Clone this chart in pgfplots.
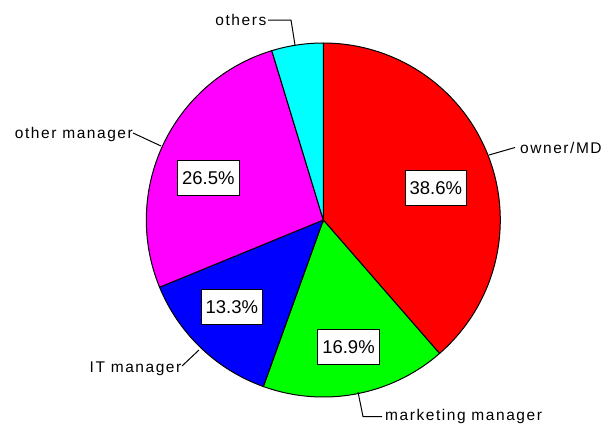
\documentclass[border=0pt]{standalone}
\usepackage{pgfplots}
\pgfplotsset{compat=1.18}
\usepackage{fontspec}
\setmainfont{Liberation Sans}
\newfontfamily\lblfont[LetterSpace=10]{Liberation Sans}
\definecolor{pRed}{RGB}{255,0,0}
\definecolor{pGreen}{RGB}{0,255,0}
\definecolor{pBlue}{RGB}{0,0,255}
\definecolor{pMagenta}{RGB}{255,0,255}
\definecolor{pCyan}{RGB}{0,255,255}

% shares (percent), clockwise from 12 o'clock
\def\vA{38.6} % owner/MD
\def\vB{16.9} % marketing manager
\def\vC{13.3} % IT manager
\def\vD{26.5} % other manager
\def\vE{4.7}  % others
\def\cx{323.3}
\def\cy{220}
\def\R{177}
\pgfmathsetmacro\aA{90}
\pgfmathsetmacro\aB{\aA-3.6*\vA}
\pgfmathsetmacro\aC{\aB-3.6*\vB}
\pgfmathsetmacro\aD{\aC-3.6*\vC}
\pgfmathsetmacro\aE{\aD-3.6*\vD}
\pgfmathsetmacro\aF{\aE-3.6*\vE}

\begin{document}
\begin{tikzpicture}
\path[use as bounding box] (0,0) rectangle (606pt,434pt);
\begin{axis}[
  at={(0,0)}, anchor=south west,
  scale only axis, width=606pt, height=434pt,
  xmin=0, xmax=606, ymin=0, ymax=434, y dir=reverse,
  hide axis, clip=false,
]
\addplot[draw=black, line width=1pt, fill=pRed, domain=\aB:\aA, samples=120, variable=\t]
  ({\cx+\R*cos(\t)}, {\cy-\R*sin(\t)}) -- (axis cs:\cx,\cy) -- cycle;
\addplot[draw=black, line width=1pt, fill=pGreen, domain=\aC:\aB, samples=80, variable=\t]
  ({\cx+\R*cos(\t)}, {\cy-\R*sin(\t)}) -- (axis cs:\cx,\cy) -- cycle;
\addplot[draw=black, line width=1pt, fill=pBlue, domain=\aD:\aC, samples=60, variable=\t]
  ({\cx+\R*cos(\t)}, {\cy-\R*sin(\t)}) -- (axis cs:\cx,\cy) -- cycle;
\addplot[draw=black, line width=1pt, fill=pMagenta, domain=\aE:\aD, samples=100, variable=\t]
  ({\cx+\R*cos(\t)}, {\cy-\R*sin(\t)}) -- (axis cs:\cx,\cy) -- cycle;
\addplot[draw=black, line width=1pt, fill=pCyan, domain=\aF:\aE, samples=30, variable=\t]
  ({\cx+\R*cos(\t)}, {\cy-\R*sin(\t)}) -- (axis cs:\cx,\cy) -- cycle;

% leader lines
\addplot[black, line width=1pt] coordinates {(268,20) (291,20) (295,45)};
\addplot[black, line width=1pt] coordinates {(489,155) (515,147.5)};
\addplot[black, line width=1pt] coordinates {(133,133) (161,146)};
\addplot[black, line width=1pt] coordinates {(182,366) (199,350)};
\addplot[black, line width=1pt] coordinates {(358,392) (363,416.5) (382,416.5)};

% outside labels
\begin{scope}[every node/.style={font=\lblfont\fontsize{15.5}{18}\selectfont, inner sep=0pt}]
\node[anchor=east] at (axis cs:266.5,20) {others};
\node[anchor=west] at (axis cs:520,147.5) {owner/MD};
\node[anchor=east] at (axis cs:133,134) {other manager};
\node[anchor=east] at (axis cs:181.5,369) {IT manager};
\node[anchor=west] at (axis cs:385,416) {marketing manager};
\end{scope}

% percentage boxes
\begin{scope}[every node/.style={font=\fontsize{18.5}{21}\selectfont, draw=black, fill=white, line width=1pt, inner xsep=4.5pt, minimum height=35pt}]
\node at (axis cs:435.8,187.8) {38.6\%};
\node at (axis cs:348.5,346.7) {16.9\%};
\node at (axis cs:231.8,306.7) {13.3\%};
\node at (axis cs:208.3,178.3) {26.5\%};
\end{scope}
\end{axis}
\end{tikzpicture}
\end{document}
